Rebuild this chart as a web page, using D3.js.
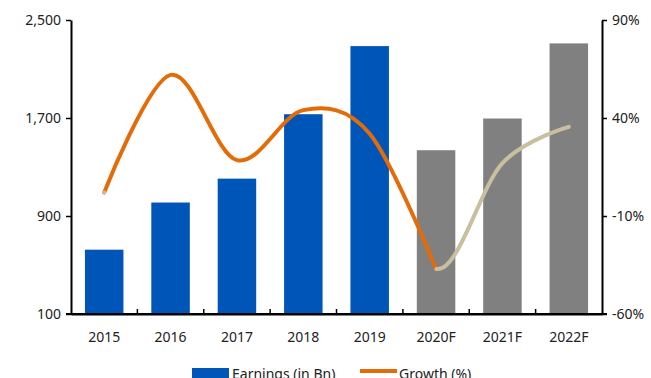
<!DOCTYPE html>
<html><head><meta charset="utf-8">
<script src="https://cdn.jsdelivr.net/npm/d3@7"></script>
<style>body{margin:0;background:#fff;} svg{display:block;font-family:"Noto Sans",sans-serif;}</style>
</head><body><svg id="c" width="651" height="378"></svg>
<script>
const categories = ["2015","2016","2017","2018","2019","2020F","2021F","2022F"];
const earnings = [625, 1010, 1205, 1731, 2287, 1437, 1696, 2309];
const growth = [2, 62, 18.5, 44, 32, -37, 17, 35.5];
const forecast = [false,false,false,false,false,true,true,true];
const leftTicks = [100, 900, 1700, 2500];
const rightTicks = [-60, -10, 40, 90];

const svg = d3.select("#c");
const L = 71, R = 602, T = 20, B = 314;
const x = d3.scaleBand().domain(categories).range([L, R]).paddingInner(0.42).paddingOuter(0.21);
const xb = d3.scaleBand().domain(categories).range([L, R]);
const yL = d3.scaleLinear().domain([100, 2500]).range([B, T]);
const yR = d3.scaleLinear().domain([-60, 90]).range([B, T]);

// bars
svg.append("g").selectAll("rect").data(categories).join("rect")
  .attr("x", d => x(d)).attr("width", x.bandwidth())
  .attr("y", (d,i) => yL(earnings[i])).attr("height", (d,i) => B - yL(earnings[i]))
  .attr("fill", (d,i) => forecast[i] ? "#808080" : "#0055b8");

// line
const pts = categories.map((d,i) => [xb(d) + xb.bandwidth()/2, yR(growth[i])]);
const line = d3.line().curve(d3.curveCardinal.tension(0));
// full path, then split by sampling
const full = svg.append("path").attr("d", line(pts)).attr("fill","none").attr("stroke","none");
const node = full.node();
const total = node.getTotalLength();
const splitX = pts[5][0];
let lo = 0, hi = total;
for (let k=0;k<40;k++){ const m=(lo+hi)/2; if (node.getPointAtLength(m).x < splitX) lo=m; else hi=m; }
svg.append("path").attr("d", line(pts.slice(0,6))).attr("fill","none")
  .attr("stroke","#e36c09").attr("stroke-width",4).attr("stroke-linecap","round")
  .attr("stroke-dasharray", lo + " " + total);
svg.append("path").attr("d", line(pts)).attr("fill","none")
  .attr("stroke","#c8bf9f").attr("stroke-width",4).attr("stroke-linecap","round")
  .attr("stroke-dasharray", "0 " + lo + " " + (total-lo+1));
full.remove();

// axes
const axL = svg.append("g").attr("transform",`translate(${L},0)`)
  .call(d3.axisLeft(yL).tickValues(leftTicks).tickSize(5).tickSizeOuter(0).tickFormat(d3.format(",")));
const axR = svg.append("g").attr("transform",`translate(${R},0)`)
  .call(d3.axisRight(yR).tickValues(rightTicks).tickSize(5).tickSizeOuter(0).tickFormat(d => d + "%"));
const axB = svg.append("g").attr("transform",`translate(0,${B})`)
  .call(d3.axisBottom(xb).tickSize(0).tickSizeOuter(0));
[axL, axR, axB].forEach(a => {
  a.select(".domain").attr("stroke","#000").attr("stroke-width",2);
  a.selectAll(".tick line").attr("stroke","#000").attr("stroke-width",1.5);
  a.selectAll("text").attr("fill","#222").attr("font-size",14).attr("font-family","Noto Sans");
});
axL.selectAll("text").attr("x",-10);
axR.selectAll("text").attr("x",10);
axB.selectAll("text").attr("y",18);
// bottom line extended to outer ticks
svg.append("line").attr("x1",L-5).attr("x2",R+5).attr("y1",B).attr("y2",B).attr("stroke","#000").attr("stroke-width",2);
// inward band ticks
svg.append("g").selectAll("line").data(categories.slice(1)).join("line")
  .attr("x1", d => xb(d)).attr("x2", d => xb(d)).attr("y1", B).attr("y2", B-5)
  .attr("stroke","#000").attr("stroke-width",1.5);

// legend
const lg = svg.append("g").attr("font-size",14).attr("fill","#222");
lg.append("rect").attr("x",192).attr("y",368).attr("width",37).attr("height",12).attr("fill","#0055b8");
lg.append("text").attr("x",232).attr("y",379).text("Earnings (in Bn)").attr("fill","#222");
lg.append("line").attr("x1",360).attr("x2",397).attr("y1",371).attr("y2",371).attr("stroke","#e36c09").attr("stroke-width",4);
lg.append("text").attr("x",399).attr("y",379).text("Growth (%)").attr("fill","#222");
</script></body></html>
